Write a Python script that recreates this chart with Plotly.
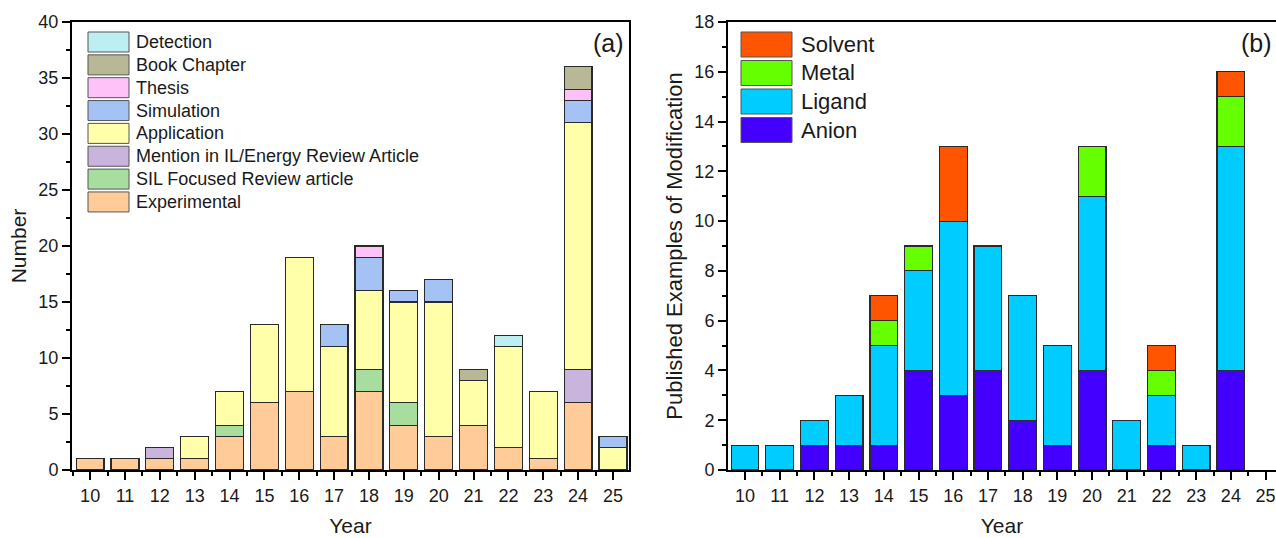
import plotly.graph_objects as go

W, H = 1276, 538
FONT = "Liberation Sans, Arial, sans-serif"

# ---------------- data ----------------
years = [10, 11, 12, 13, 14, 15, 16, 17, 18, 19, 20, 21, 22, 23, 24, 25]

# panel (a)
experimental = [1, 1, 1, 1, 3, 6, 7, 3, 7, 4, 3, 4, 2, 1, 6, 0]
sil_review   = [0, 0, 0, 0, 1, 0, 0, 0, 2, 2, 0, 0, 0, 0, 0, 0]
mention_il   = [0, 0, 1, 0, 0, 0, 0, 0, 0, 0, 0, 0, 0, 0, 3, 0]
application  = [0, 0, 0, 2, 3, 7, 12, 8, 7, 9, 12, 4, 9, 6, 22, 2]
simulation   = [0, 0, 0, 0, 0, 0, 0, 2, 3, 1, 2, 0, 0, 0, 2, 1]
thesis       = [0, 0, 0, 0, 0, 0, 0, 0, 1, 0, 0, 0, 0, 0, 1, 0]
book_chapter = [0, 0, 0, 0, 0, 0, 0, 0, 0, 0, 0, 1, 0, 0, 2, 0]
detection    = [0, 0, 0, 0, 0, 0, 0, 0, 0, 0, 0, 0, 1, 0, 0, 0]

a_names  = ["Experimental", "SIL Focused Review article", "Mention in IL/Energy Review Article",
            "Application", "Simulation", "Thesis", "Book Chapter", "Detection"]
a_values = [experimental, sil_review, mention_il, application, simulation, thesis,
            book_chapter, detection]
a_colors = ["#FFCC99", "#A8DDA0", "#C8B4DC", "#FFFFAA", "#A4C2F4", "#FFC2F8", "#B8B896", "#BDEEF2"]

# panel (b)
anion   = [0, 0, 1, 1, 1, 4, 3, 4, 2, 1, 4, 0, 1, 0, 4, 0]
ligand  = [1, 1, 1, 2, 4, 4, 7, 5, 5, 4, 7, 2, 2, 1, 9, 0]
metal   = [0, 0, 0, 0, 1, 1, 0, 0, 0, 0, 2, 0, 1, 0, 2, 0]
solvent = [0, 0, 0, 0, 1, 0, 3, 0, 0, 0, 0, 0, 1, 0, 1, 0]

b_names  = ["Anion", "Ligand", "Metal", "Solvent"]
b_values = [anion, ligand, metal, solvent]
b_colors = ["#4400FF", "#00CCFF", "#66FF00", "#FF5500"]


def nz(vals):
    return [v if v else None for v in vals]


fig = go.Figure()
for name, vals, col in zip(a_names, a_values, a_colors):
    fig.add_trace(go.Bar(x=years, y=nz(vals), name=name, marker_color=col,
                         marker_line=dict(color="#2a2a2a", width=1.2),
                         xaxis="x", yaxis="y", showlegend=False))
for name, vals, col in zip(b_names, b_values, b_colors):
    fig.add_trace(go.Bar(x=years, y=nz(vals), name=name, marker_color=col,
                         marker_line=dict(color="#2a2a2a", width=1.2),
                         xaxis="x2", yaxis="y2", showlegend=False))


def px(x):
    return x / W


def py(y):
    return 1 - y / H


ax_common = dict(showline=True, linecolor="black", linewidth=2, ticks="outside",
                 tickcolor="black", tickwidth=1.5, ticklen=8, showgrid=False,
                 zeroline=False, automargin=False,
                 tickfont=dict(family=FONT, size=18, color="#1a1a1a"))

y_dom = [py(470), py(22)]

fig.update_layout(
    width=W, height=H, margin=dict(l=0, r=0, t=0, b=0, autoexpand=False),
    paper_bgcolor="white", plot_bgcolor="white",
    barmode="stack", bargap=0.2, showlegend=False,
    font=dict(family=FONT, color="#1a1a1a"),
    xaxis=dict(domain=[px(72), px(629)], range=[9.48, 25.46], tickmode="array",
               tickvals=years, ticktext=[str(y) for y in years], mirror=True,
               minor=dict(tickvals=[y + 0.5 for y in years[:-1]] + [9.5], ticks="outside",
                          ticklen=4, tickcolor="black", tickwidth=1.5),
               title=dict(text="Year", font=dict(family=FONT, size=21), standoff=14),
               anchor="y", **ax_common),
    yaxis=dict(domain=y_dom, range=[0, 40], dtick=5, tick0=0, mirror=True,
               minor=dict(dtick=2.5, tick0=0, ticks="outside", ticklen=4,
                          tickcolor="black", tickwidth=1.5),
               title=dict(text="Number", font=dict(family=FONT, size=21), standoff=6),
               anchor="x", **ax_common),
    xaxis2=dict(domain=[px(728), 1.0], range=[9.51, 25.30], tickmode="array",
                tickvals=years, ticktext=[str(y) for y in years], mirror=True,
                minor=dict(tickvals=[y + 0.5 for y in years[:-1]] + [9.5], ticks="outside",
                           ticklen=4, tickcolor="black", tickwidth=1.5),
                title=dict(text="Year", font=dict(family=FONT, size=21), standoff=14),
                anchor="y2", **ax_common),
    yaxis2=dict(domain=y_dom, range=[0, 18], dtick=2, tick0=0, mirror=False,
                minor=dict(dtick=1, tick0=0, ticks="outside", ticklen=4,
                           tickcolor="black", tickwidth=1.5),
                title=dict(text="Published Examples of Modification",
                           font=dict(family=FONT, size=22), standoff=6),
                anchor="x2", **ax_common),
)

shapes = []
annotations = []

# legend (a): top entry = last series
for i, (name, col) in enumerate(zip(a_names[::-1], a_colors[::-1])):
    cy = 42 + 22.85 * i
    shapes.append(dict(type="rect", xref="paper", yref="paper",
                       x0=px(88), x1=px(129), y0=py(cy + 10), y1=py(cy - 10),
                       fillcolor=col, line=dict(color="#555555", width=1)))
    annotations.append(dict(xref="paper", yref="paper", x=px(134), y=py(cy),
                            xanchor="left", yanchor="middle", showarrow=False,
                            text=name, font=dict(family=FONT, size=18, color="#1a1a1a")))

# legend (b)
for i, (name, col) in enumerate(zip(b_names[::-1], b_colors[::-1])):
    cy = 44.5 + 28.5 * i
    shapes.append(dict(type="rect", xref="paper", yref="paper",
                       x0=px(741), x1=px(792), y0=py(cy + 12.5), y1=py(cy - 12.5),
                       fillcolor=col, line=dict(color="#555555", width=1)))
    annotations.append(dict(xref="paper", yref="paper", x=px(799), y=py(cy),
                            xanchor="left", yanchor="middle", showarrow=False,
                            text=name, font=dict(family=FONT, size=22, color="#1a1a1a")))

annotations.append(dict(xref="paper", yref="paper", x=px(626), y=py(43), xanchor="right",
                        yanchor="middle", showarrow=False, text="(a)",
                        font=dict(family=FONT, size=25, color="#1a1a1a")))
annotations.append(dict(xref="paper", yref="paper", x=px(1239), y=py(43), xanchor="left",
                        yanchor="middle", showarrow=False, text="(b)",
                        font=dict(family=FONT, size=25, color="#1a1a1a")))

fig.update_layout(shapes=shapes, annotations=annotations)
fig.write_html("out.html")
